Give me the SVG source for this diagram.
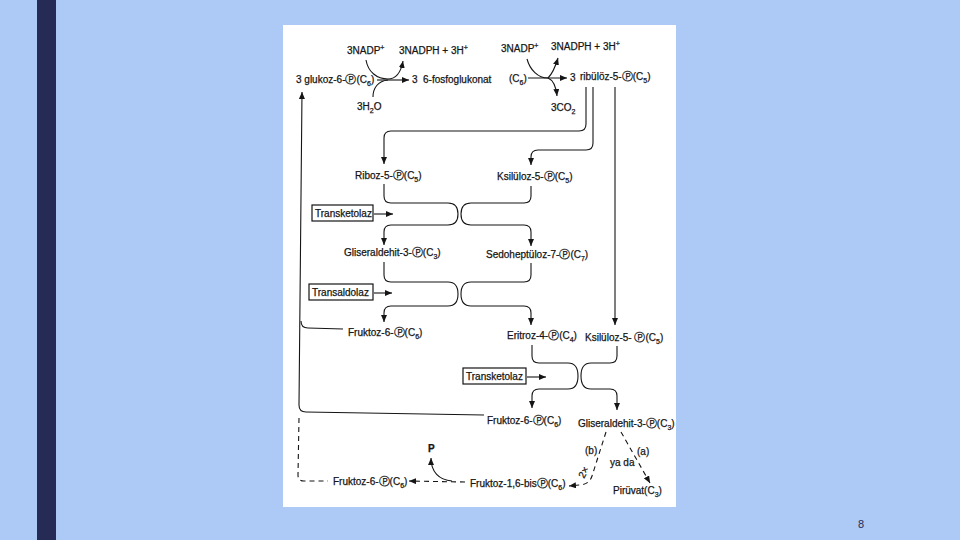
<svg xmlns="http://www.w3.org/2000/svg" width="960" height="540" viewBox="0 0 960 540">
<defs>
<style>
.t{font-family:"Liberation Sans","DejaVu Sans",sans-serif;font-size:10px;fill:#151515;stroke:#151515;stroke-width:0.25}
.s{font-size:7px}
.p{font-family:"DejaVu Sans",sans-serif;font-size:11px}
.c{fill:none;stroke:#151515;stroke-width:1.1}
.d{fill:none;stroke:#151515;stroke-width:1.1;stroke-dasharray:5 4}
.box{fill:#fff;stroke:#151515;stroke-width:1.2}
</style>
<marker id="ah" markerUnits="userSpaceOnUse" markerWidth="7" markerHeight="6" refX="7" refY="3" orient="auto">
<path d="M0,0 L7,3 L0,6 z" fill="#151515"/>
</marker>
</defs>
<rect x="0" y="0" width="960" height="540" fill="#adc9f6"/>
<rect x="37" y="0" width="19" height="540" fill="#262b55"/>
<rect x="283" y="25" width="393" height="482" fill="#ffffff"/>

<g id="connectors">
<path class="c" d="M377,80 L409,80" marker-end="url(#ah)"/>
<path class="c" d="M366,60 C368,72 377,79 388,79 C396,79 401,72 403,61" marker-end="url(#ah)"/>
<path class="c" d="M373,97 C373,88 378,81 388,80"/>
<path class="c" d="M528,78 L567,78" marker-end="url(#ah)"/>
<path class="c" d="M527,59 C530,70 538,78 548,78 C552,74 555,68 558,58" marker-end="url(#ah)"/>
<path class="c" d="M548,78 C553,80 556,86 557,96" marker-end="url(#ah)"/>
<path class="c" d="M586,87 L586,124 Q586,131 579,131 L391,131 Q384,131 384,138 L384,164" marker-end="url(#ah)"/>
<path class="c" d="M593,87 L593,143 Q593,150 586,150 L538,150 Q531,150 531,157 L531,165" marker-end="url(#ah)"/>
<path class="c" d="M615,87 L615,325" marker-end="url(#ah)"/>
<path class="c" d="M384,184 V196 Q384,203 391,203 H448 Q458,203 458,214 Q458,225 448,225 H391 Q384,225 384,232 V245" marker-end="url(#ah)"/>
<path class="c" d="M531,186 V196 Q531,203 524,203 H471 Q461,203 461,214 Q461,225 471,225 H524 Q531,225 531,232 V246" marker-end="url(#ah)"/>
<path class="c" d="M374,214 L393,214" marker-end="url(#ah)"/>
<path class="c" d="M384,262 V275 Q384,282 391,282 H448 Q458,282 458,294 Q458,306 448,306 H391 Q384,306 384,313 V322" marker-end="url(#ah)"/>
<path class="c" d="M531,263 V275 Q531,282 524,282 H471 Q461,282 461,294 Q461,306 471,306 H524 Q531,306 531,313 V325" marker-end="url(#ah)"/>
<path class="c" d="M374,293 L392,293" marker-end="url(#ah)"/>
<path class="c" d="M532,345 V356 Q532,363 539,363 H568 Q578,363 578,376 Q578,389 568,389 H539 Q532,389 532,396 V408" marker-end="url(#ah)"/>
<path class="c" d="M617,346 V356 Q617,363 610,363 H591 Q581,363 581,376 Q581,389 591,389 H610 Q617,389 617,396 V410" marker-end="url(#ah)"/>
<path class="c" d="M527,377 L546,377" marker-end="url(#ah)"/>
<path class="c" d="M484,415 L306,412 Q299,412 299,405 L302,92" marker-end="url(#ah)"/>
<path class="c" d="M343,329 L308,328 Q301,328 301,321"/>
<path class="d" d="M299,418 L298,475 Q298,481 304,481 L328,481"/>
<path class="d" d="M465,482 L409,481" marker-end="url(#ah)"/>
<path class="c" d="M452,481 C439,480 431,472 431,458" marker-end="url(#ah)"/>
<path class="d" d="M606,432 L592,476 Q589,485 579,485 L569,486" marker-end="url(#ah)"/>
<path class="d" d="M621,432 L650,483" marker-end="url(#ah)"/>
</g>

<g id="n-nadp1"><text class="t" x="347" y="54">3NADP<tspan class="s" dy="-4">+</tspan></text></g>
<g id="n-nadph1"><text class="t" x="399" y="54">3NADPH + 3H<tspan class="s" dy="-4">+</tspan></text></g>
<g id="n-glukoz"><text class="t" x="296" y="83">3 glukoz-6-<tspan class="p">Ⓟ</tspan>(C<tspan class="s" dy="3">6</tspan><tspan dy="-3">)</tspan></text></g>
<g id="n-fosfoglukonat"><text class="t" x="412" y="83">3</text><text class="t" x="423" y="83">6-fosfoglukonat</text></g>
<g id="n-h2o"><text class="t" x="357" y="110">3H<tspan class="s" dy="3">2</tspan><tspan dy="-3">O</tspan></text></g>
<g id="n-nadp2"><text class="t" x="501" y="52">3NADP<tspan class="s" dy="-4">+</tspan></text></g>
<g id="n-nadph2"><text class="t" x="551" y="50">3NADPH + 3H<tspan class="s" dy="-4">+</tspan></text></g>
<g id="n-c6"><text class="t" x="509" y="82">(C<tspan class="s" dy="3">6</tspan><tspan dy="-3">)</tspan></text></g>
<g id="n-ribuloz"><text class="t" x="570" y="81">3</text><text class="t" x="580" y="80">ribülöz-5-<tspan class="p">Ⓟ</tspan>(C<tspan class="s" dy="3">5</tspan><tspan dy="-3">)</tspan></text></g>
<g id="n-co2"><text class="t" x="551" y="111">3CO<tspan class="s" dy="3">2</tspan></text></g>
<g id="n-riboz"><text class="t" x="355" y="179">Riboz-5-<tspan class="p">Ⓟ</tspan>(C<tspan class="s" dy="3">5</tspan><tspan dy="-3">)</tspan></text></g>
<g id="n-ksiluloz1"><text class="t" x="497" y="180">Ksilüloz-5-<tspan class="p">Ⓟ</tspan>(C<tspan class="s" dy="3">5</tspan><tspan dy="-3">)</tspan></text></g>
<g id="n-transketolaz1"><rect class="box" x="312" y="205" width="61" height="16"/><text class="t" x="315" y="217">Transketolaz</text></g>
<g id="n-gliser1"><text class="t" x="344" y="256">Gliseraldehit-3-<tspan class="p">Ⓟ</tspan>(C<tspan class="s" dy="3">3</tspan><tspan dy="-3">)</tspan></text></g>
<g id="n-sedohep"><text class="t" x="486" y="258">Sedoheptüloz-7-<tspan class="p">Ⓟ</tspan>(C<tspan class="s" dy="3">7</tspan><tspan dy="-3">)</tspan></text></g>
<g id="n-transaldolaz"><rect class="box" x="309" y="284" width="64" height="16"/><text class="t" x="312" y="296">Transaldolaz</text></g>
<g id="n-fruktoz1"><text class="t" x="348" y="336">Fruktoz-6-<tspan class="p">Ⓟ</tspan>(C<tspan class="s" dy="3">6</tspan><tspan dy="-3">)</tspan></text></g>
<g id="n-eritroz"><text class="t" x="507" y="339">Eritroz-4-<tspan class="p">Ⓟ</tspan>(C<tspan class="s" dy="3">4</tspan><tspan dy="-3">)</tspan></text></g>
<g id="n-ksiluloz2"><text class="t" x="585" y="341">Ksilüloz-5- <tspan class="p">Ⓟ</tspan>(C<tspan class="s" dy="3">5</tspan><tspan dy="-3">)</tspan></text></g>
<g id="n-transketolaz2"><rect class="box" x="463" y="368" width="63" height="16"/><text class="t" x="466" y="380">Transketolaz</text></g>
<g id="n-fruktoz2"><text class="t" x="487" y="424">Fruktoz-6-<tspan class="p">Ⓟ</tspan>(C<tspan class="s" dy="3">6</tspan><tspan dy="-3">)</tspan></text></g>
<g id="n-gliser2"><text class="t" x="578" y="427">Gliseraldehit-3-<tspan class="p">Ⓟ</tspan>(C<tspan class="s" dy="3">3</tspan><tspan dy="-3">)</tspan></text></g>
<g id="n-p"><text class="t" x="428" y="452" font-weight="bold">P</text></g>
<g id="n-labels">
<text class="t" x="585" y="454">(b)</text>
<text class="t" x="610" y="466">ya da</text>
<text class="t" x="637" y="455">(a)</text>
<text class="t" x="0" y="0" transform="translate(584,479) rotate(-62)">2×</text>
</g>
<g id="n-fruktoz3"><text class="t" x="333" y="485">Fruktoz-6-<tspan class="p">Ⓟ</tspan>(C<tspan class="s" dy="3">6</tspan><tspan dy="-3">)</tspan></text></g>
<g id="n-fruktozbis"><text class="t" x="470" y="487">Fruktoz-1,6-bis<tspan class="p">Ⓟ</tspan>(C<tspan class="s" dy="3">6</tspan><tspan dy="-3">)</tspan></text></g>
<g id="n-piruvat"><text class="t" x="613" y="494">Pirüvat(C<tspan class="s" dy="3">3</tspan><tspan dy="-3">)</tspan></text></g>
<g id="page"><text x="858" y="528" style="font-family:'Liberation Sans',sans-serif;font-size:11px;fill:#262b55">8</text></g>
</svg>
